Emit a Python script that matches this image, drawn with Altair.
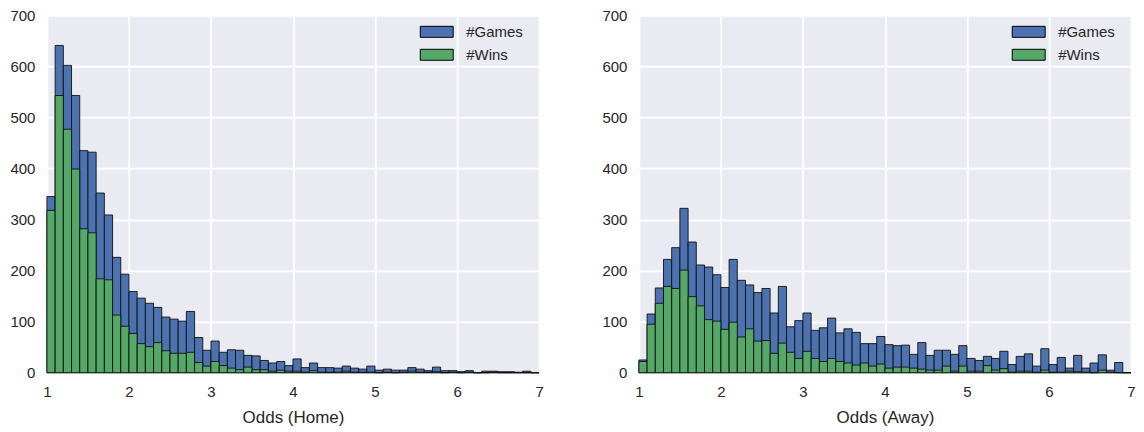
import altair as alt
import pandas as pd

# bin starts (width 0.1) from 1.0 to 6.9
bin_starts = [round(1.0 + 0.1 * i, 1) for i in range(60)]

games_home = [345, 641, 602, 543, 435, 432, 352, 309, 226, 193,
              159, 146, 136, 128, 109, 105, 101, 120, 69, 44,
              62, 40, 45, 44, 34, 33, 24, 19, 22, 14,
              27, 10, 19, 10, 10, 9, 13, 9, 7, 13,
              5, 7, 5, 5, 10, 7, 4, 11, 4, 4,
              2, 4, 0, 3, 3, 2, 2, 1, 3, 0]
wins_home = [318, 543, 477, 399, 282, 274, 184, 182, 113, 91,
             77, 57, 51, 59, 43, 38, 38, 40, 20, 13,
             22, 14, 9, 6, 11, 6, 6, 3, 5, 3,
             3, 1, 4, 1, 1, 1, 3, 1, 1, 1,
             0, 1, 0, 1, 3, 1, 1, 2, 0, 1,
             0, 1, 0, 0, 1, 0, 0, 0, 0, 0]

games_away = [25, 115, 166, 222, 245, 322, 256, 211, 207, 192,
              167, 222, 181, 172, 157, 165, 117, 169, 90, 102,
              117, 83, 88, 107, 78, 86, 79, 57, 57, 71,
              55, 53, 54, 36, 59, 34, 44, 44, 36, 53,
              28, 24, 32, 28, 42, 16, 32, 37, 13, 47,
              16, 30, 9, 34, 9, 19, 35, 5, 20, 0]
wins_away = [22, 95, 136, 169, 165, 201, 149, 131, 104, 101,
             85, 99, 70, 86, 62, 63, 38, 58, 40, 28,
             42, 28, 22, 28, 22, 19, 15, 19, 13, 17,
             9, 11, 11, 9, 7, 5, 5, 13, 3, 13,
             3, 3, 14, 5, 8, 1, 3, 3, 1, 5,
             1, 1, 3, 2, 1, 0, 5, 1, 0, 0]

series_names = ["#Games", "#Wins"]
series_colors = ["#4C72B0", "#55A868"]
x_ticks = [1, 2, 3, 4, 5, 6, 7]
y_ticks = [0, 100, 200, 300, 400, 500, 600, 700]


def make_df(games, wins):
    rows = []
    for s, g, w in zip(bin_starts, games, wins):
        e = round(s + 0.1, 1)
        rows.append({"start": s, "end": e, "count": g, "series": "#Games"})
        rows.append({"start": s, "end": e, "count": w, "series": "#Wins"})
    return pd.DataFrame(rows)


def panel(df, title):
    x = alt.X("start:Q", scale=alt.Scale(domain=[1, 7], nice=False, zero=False),
              axis=alt.Axis(values=x_ticks, format="d", title=title, grid=True,
                            ticks=False, domain=False, labelPadding=12,
                            labelFlush=False, titlePadding=10))
    y = alt.Y("count:Q", scale=alt.Scale(domain=[0, 700], nice=False),
              axis=alt.Axis(values=y_ticks, title=None, grid=True, ticks=False,
                            domain=False, labelPadding=12))
    color = alt.Color("series:N",
                      scale=alt.Scale(domain=series_names, range=series_colors),
                      legend=alt.Legend(title=None, orient="none",
                                        legendX=379, legendY=5,
                                        symbolType="M-1.5,-0.5H1.5V0.5H-1.5Z",
                                        symbolSize=484, symbolStrokeColor="black",
                                        symbolStrokeWidth=1, symbolOpacity=1,
                                        labelFontSize=15, labelColor="#262626",
                                        labelOffset=18, rowPadding=3, padding=0))
    base = alt.Chart(df).mark_bar(stroke="#111111", strokeWidth=1, opacity=1,
                                  strokeOpacity=0.9)
    games = base.transform_filter(alt.datum.series == "#Games").encode(
        x=x, x2="end:Q", y=y, y2=alt.datum(0), color=color)
    wins = base.transform_filter(alt.datum.series == "#Wins").encode(
        x=x, x2="end:Q", y=y, y2=alt.datum(0), color=color)
    return alt.layer(games, wins).properties(width=493, height=358)


left = panel(make_df(games_home, wins_home), "Odds (Home)")
right = panel(make_df(games_away, wins_away), "Odds (Away)")

chart = alt.hconcat(left, right, spacing=57).resolve_scale(
    color="independent").resolve_legend(color="independent").properties(
    padding={"left": 1, "top": 0, "right": 0, "bottom": 0}
).configure(font="Liberation Sans").configure_view(
    fill="#EAEAF2", stroke=None
).configure_axis(
    gridColor="white", gridWidth=1.8, labelFontSize=15, labelColor="#262626",
    titleFontSize=17, titleFontWeight="normal", titleColor="#262626",
    labelFont="Liberation Sans", titleFont="Liberation Sans"
)

chart.save("out.html", embed_options={"renderer": "svg", "actions": False})
